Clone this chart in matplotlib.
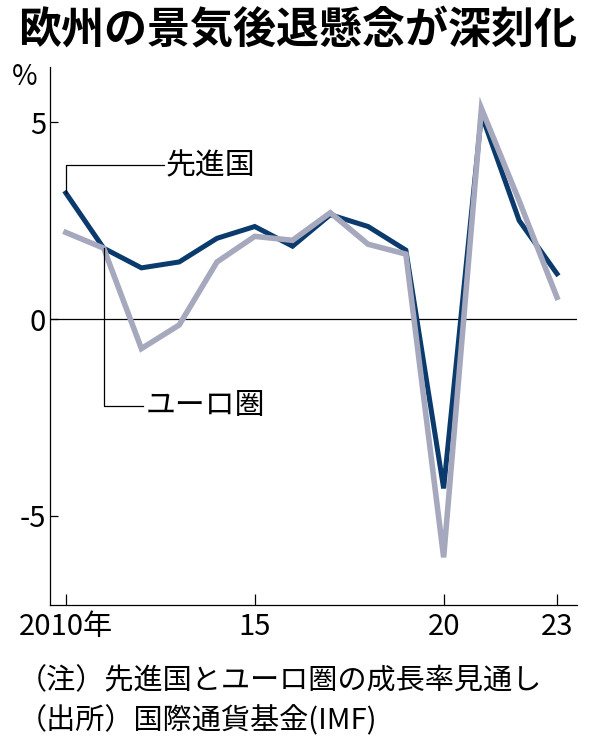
import matplotlib
matplotlib.use("Agg")
import matplotlib.pyplot as plt

plt.rcParams['font.family'] = ['Noto Sans CJK JP', 'DejaVu Sans']

years = list(range(2010, 2024))
advanced = [3.2, 1.8, 1.3, 1.45, 2.05, 2.35, 1.85, 2.65, 2.35, 1.75, -4.3, 5.2, 2.5, 1.15]
euro = [2.2, 1.8, -0.75, -0.15, 1.45, 2.1, 2.0, 2.7, 1.9, 1.65, -6.05, 5.35, 3.0, 0.55]
xticks = [2010, 2015, 2020, 2023]
xlabels = ['2010年', '15', '20', '23']
yticks = [-5, 0, 5]

navy = '#0b3b6c'
grey = '#a6a8bd'

fig = plt.figure(figsize=(5.96, 7.56), dpi=100)
ax = fig.add_axes([50/596, 1-605/756, 527/596, 538/756])

ax.axhline(0, color='black', lw=0.9, zorder=1)
ax.plot(years, advanced, color=navy, lw=3.6, solid_joinstyle='miter', zorder=2)
ax.plot(years, euro, color=grey, lw=4.0, solid_joinstyle='miter', zorder=3)

ax.set_xlim(2009.58, 2023.53)
ax.set_ylim(-7.26, 6.4)
ax.set_xticks(xticks)
ax.set_xticklabels(xlabels)
ax.set_yticks(yticks)
ax.set_yticklabels([str(v) for v in yticks])
ax.tick_params(direction='in', length=6, width=0.9, labelsize=21, pad=3)
ax.tick_params(axis='x', length=8, pad=5)
for s in ['top', 'right']:
    ax.spines[s].set_visible(False)
for s in ['left', 'bottom']:
    ax.spines[s].set_linewidth(0.9)

# leader lines to labels
ax.plot([2010, 2010, 2012.6], [advanced[0], 3.9, 3.9], color='black', lw=0.9, zorder=4)
ax.text(2012.65, 3.9, '先進国', fontsize=21.5, va='center', ha='left')
ax.plot([2011, 2011, 2012.05], [euro[1], -2.2, -2.2], color='black', lw=0.9, zorder=4)
ax.text(2012.1, -2.2, 'ユーロ圏', fontsize=21.5, va='center', ha='left')

fig.text(12/596, 1-77/756, '%', fontsize=20, ha='left', va='center')
fig.text(0.5, 1-30/756, '欧州の景気後退懸念が深刻化', fontsize=31, fontweight='bold',
         ha='center', va='center')
fig.text(18/596, 1-681/756, '（注）先進国とユーロ圏の成長率見通し', fontsize=21, ha='left', va='center')
fig.text(18/596, 1-721/756, '（出所）国際通貨基金(IMF)', fontsize=21, ha='left', va='center')

fig.savefig('out.png', dpi=100)
